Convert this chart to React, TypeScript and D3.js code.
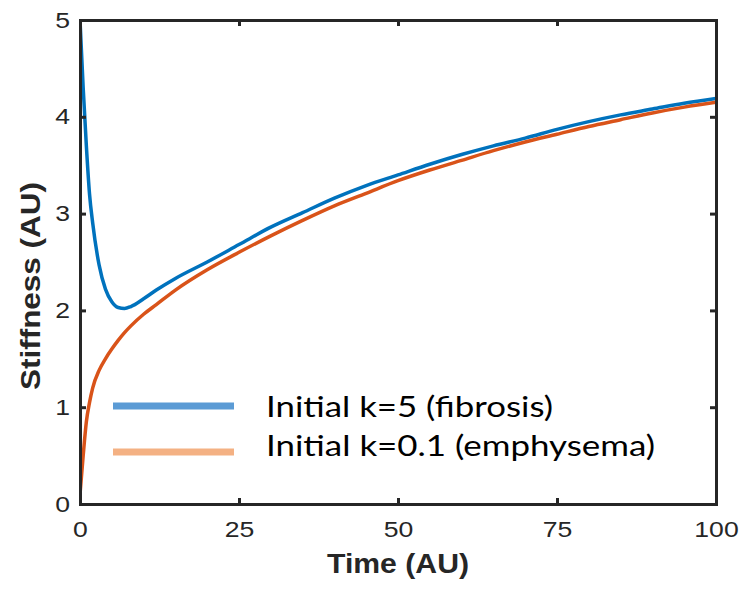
import React, { useRef, useEffect } from "react";
import * as d3 from "d3";

const timePoints = [0, 0.5, 1, 1.5, 2, 3, 4, 5, 6, 7, 8, 10, 12, 15, 20, 25, 30, 35, 40, 45, 50, 55, 60, 65, 70, 75, 80, 85, 90, 95, 100];
const fibrosis = [5.0, 4.3, 3.7, 3.2, 2.9, 2.47, 2.22, 2.09, 2.03, 2.02, 2.04, 2.12, 2.21, 2.33, 2.5, 2.68, 2.86, 3.01, 3.16, 3.29, 3.4, 3.51, 3.61, 3.7, 3.78, 3.87, 3.95, 4.02, 4.08, 4.14, 4.19];
const emphysema = [0.1, 0.5, 0.85, 1.05, 1.2, 1.38, 1.5, 1.6, 1.69, 1.77, 1.84, 1.96, 2.06, 2.21, 2.42, 2.6, 2.77, 2.93, 3.08, 3.21, 3.34, 3.45, 3.55, 3.65, 3.74, 3.82, 3.9, 3.97, 4.04, 4.1, 4.15];
const xTicks = [0, 25, 50, 75, 100];
const yTicks = [0, 1, 2, 3, 4, 5];
const legendLabels = ["Initial k=5 (fibrosis)", "Initial k=0.1 (emphysema)"];

const App = () => {
  const svgRef = useRef<SVGSVGElement>(null);

  useEffect(() => {
    const svg = d3.select(svgRef.current);
    svg.selectAll("*").remove();

    const margin = { top: 20, right: 28, bottom: 86, left: 80 };
    const width = 744;
    const height = 590;
    const innerWidth = width - margin.left - margin.right;
    const innerHeight = height - margin.top - margin.bottom;

    const x = d3.scaleLinear().domain([0, 100]).range([0, innerWidth]);
    const y = d3.scaleLinear().domain([0, 5]).range([innerHeight, 0]);

    const g = svg.append("g").attr("transform", `translate(${margin.left},${margin.top})`);
    const axisColor = "#262626";
    const tickFont = "'Liberation Sans', Arial, sans-serif";

    // clip so the lines stay in the box
    svg.append("defs").append("clipPath").attr("id", "plot-clip")
      .append("rect").attr("width", innerWidth).attr("height", innerHeight);

    const line = d3.line<number>()
      .x((d, i) => x(timePoints[i]))
      .y((d) => y(d))
      .curve(d3.curveMonotoneX);

    const lines = g.append("g").attr("clip-path", "url(#plot-clip)");
    lines.append("path").datum(fibrosis).attr("d", line)
      .attr("fill", "none").attr("stroke", "#0072BD").attr("stroke-width", 3.5);
    lines.append("path").datum(emphysema).attr("d", line)
      .attr("fill", "none").attr("stroke", "#D95319").attr("stroke-width", 3.5);

    // axes with inward ticks
    const xAxis = g.append("g").attr("transform", `translate(0,${innerHeight})`)
      .call(d3.axisBottom(x).tickValues(xTicks).tickSize(-6).tickPadding(17).tickFormat(d3.format("d")));
    const yAxis = g.append("g")
      .call(d3.axisLeft(y).tickValues(yTicks).tickSize(-6).tickPadding(10).tickFormat(d3.format("d")));
    g.append("g").call(d3.axisTop(x).tickValues(xTicks).tickSize(-6).tickFormat(() => ""));
    g.append("g").attr("transform", `translate(${innerWidth},0)`)
      .call(d3.axisRight(y).tickValues(yTicks).tickSize(-6).tickFormat(() => ""));

    g.selectAll(".domain").attr("stroke", axisColor).attr("stroke-width", 3);
    g.selectAll(".tick line").attr("stroke", axisColor).attr("stroke-width", 3);
    [xAxis, yAxis].forEach((a) => {
      a.attr("font-family", tickFont).attr("font-size", 22);
      a.selectAll<SVGTextElement, number>("text")
        .attr("fill", axisColor)
        .attr("textLength", function () { return this.textContent!.length * 14.8; })
        .attr("lengthAdjust", "spacingAndGlyphs");
    });

    // axis labels
    svg.append("text")
      .attr("x", margin.left + innerWidth / 2).attr("y", 573)
      .attr("text-anchor", "middle").attr("fill", axisColor)
      .attr("font-family", tickFont).attr("font-size", 28).attr("font-weight", "bold")
      .attr("textLength", 142).attr("lengthAdjust", "spacingAndGlyphs")
      .text("Time (AU)");
    svg.append("text")
      .attr("transform", `translate(40,286) rotate(-90)`)
      .attr("text-anchor", "middle").attr("fill", axisColor)
      .attr("font-family", tickFont).attr("font-size", 28).attr("font-weight", "bold")
      .attr("textLength", 208).attr("lengthAdjust", "spacingAndGlyphs")
      .text("Stiffness (AU)");

    // legend
    const legendColors = ["#5B9BD5", "#F4B183"];
    const legendLineY = [406, 452];
    const legendTextY = [417, 456];
    const legendWidths = [287, 389];
    const legend = svg.append("g");
    legendLabels.forEach((label, i) => {
      legend.append("line")
        .attr("x1", 113).attr("x2", 234).attr("y1", legendLineY[i]).attr("y2", legendLineY[i])
        .attr("stroke", legendColors[i]).attr("stroke-width", 7);
      legend.append("text")
        .attr("x", 266).attr("y", legendTextY[i])
        .attr("fill", "#000")
        .attr("font-family", "Lato, 'Open Sans', sans-serif").attr("font-size", 29)
        .attr("textLength", legendWidths[i]).attr("lengthAdjust", "spacingAndGlyphs")
        .text(label);
    });
  }, []);

  return (
    <svg ref={svgRef} width={744} height={590}
      style={{ position: "absolute", left: 0, top: 0, overflow: "visible" }}></svg>
  );
};

export default App;
